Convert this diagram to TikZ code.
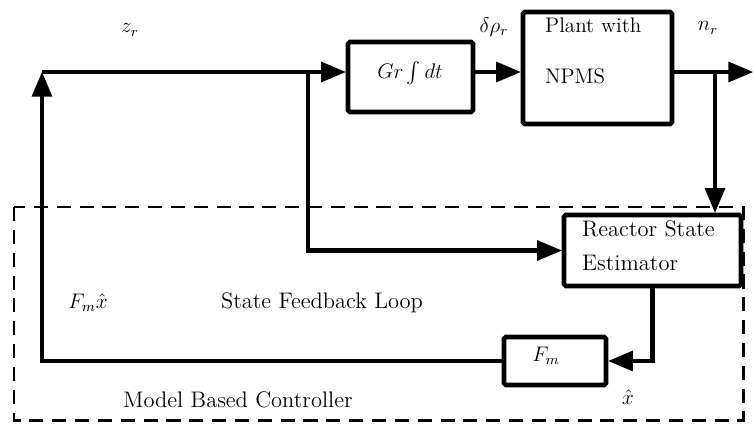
\documentclass[tikz,border=0pt]{standalone}
\usepackage{amsmath,amssymb}
\usetikzlibrary{positioning,calc,arrows}

\begin{document}
\begin{tikzpicture}[x=0.02cm,y=-0.02cm,font=\large,
		blk/.style={draw,line width=2.6pt,rounded corners=1pt,inner sep=0pt,fill=white},
		sig/.style={line width=2.3pt,-triangle 45},
		lbl/.style={font=\fontsize{12.8}{15}\selectfont}]
		\useasboundingbox (0,0) rectangle (753,423);
		\draw[line width=1.7pt,dash pattern=on 8pt off 5pt] (14,207) rectangle (743,420);
		\node[blk,minimum width=2.5cm,minimum height=1.4cm] (gr) at (410.5,77) {};
		\node[blk,minimum width=2.98cm,minimum height=2.24cm] (plant) at (597.5,68) {};
		\node[blk,minimum width=3.54cm,minimum height=1.42cm] (est) at (652.5,250.5) {};
		\node[blk,minimum width=2.04cm,minimum height=0.96cm] (fm) at (555,361) {};
		\node (grtxt) at (410,73) {$Gr\int dt$};
		\node[anchor=west] (plant1) at (539,25) {Plant with};
		\node[anchor=west] (plant2) at (539,76) {NPMS};
		\node[anchor=west,lbl] (est1) at (576,229) {Reactor State};
		\node[anchor=west,lbl] (est2) at (576,263) {Estimator};
		\node (fmtxt) at (546,356) {$F_m$};
		\node (zr) at (130,30) {$z_r$};
		\node (dp) at (494,27) {$\delta\rho_r$};
		\node (nr) at (708,28) {$n_r$};
		\node (fmx) at (88,303) {$F_m\hat{x}$};
		\node[lbl] (sfl) at (322,303) {State Feedback Loop};
		\node[lbl] (mbc) at (238,400) {Model Based Controller};
		\node (xh) at (628,397) {$\hat{x}$};
		\coordinate (zin) at (42,72);
		\coordinate (tap) at (308,72);
		\coordinate (ntap) at (715,72);
		\coordinate (nout) at (753,72);
		\draw[sig] (zin) -- (zin -| gr.west);
		\draw[sig] (gr.east |- zin) -- (zin -| plant.west);
		\draw[sig] (plant.east |- zin) -- (nout);
		\draw[sig] (ntap) -- (ntap |- est.north);
		\draw[sig] (tap) |- (est.west);
		\draw[sig] (est.south) |- (fm.east);
		\draw[sig] (fm.west) -| (zin);
	\end{tikzpicture}
\end{document}
